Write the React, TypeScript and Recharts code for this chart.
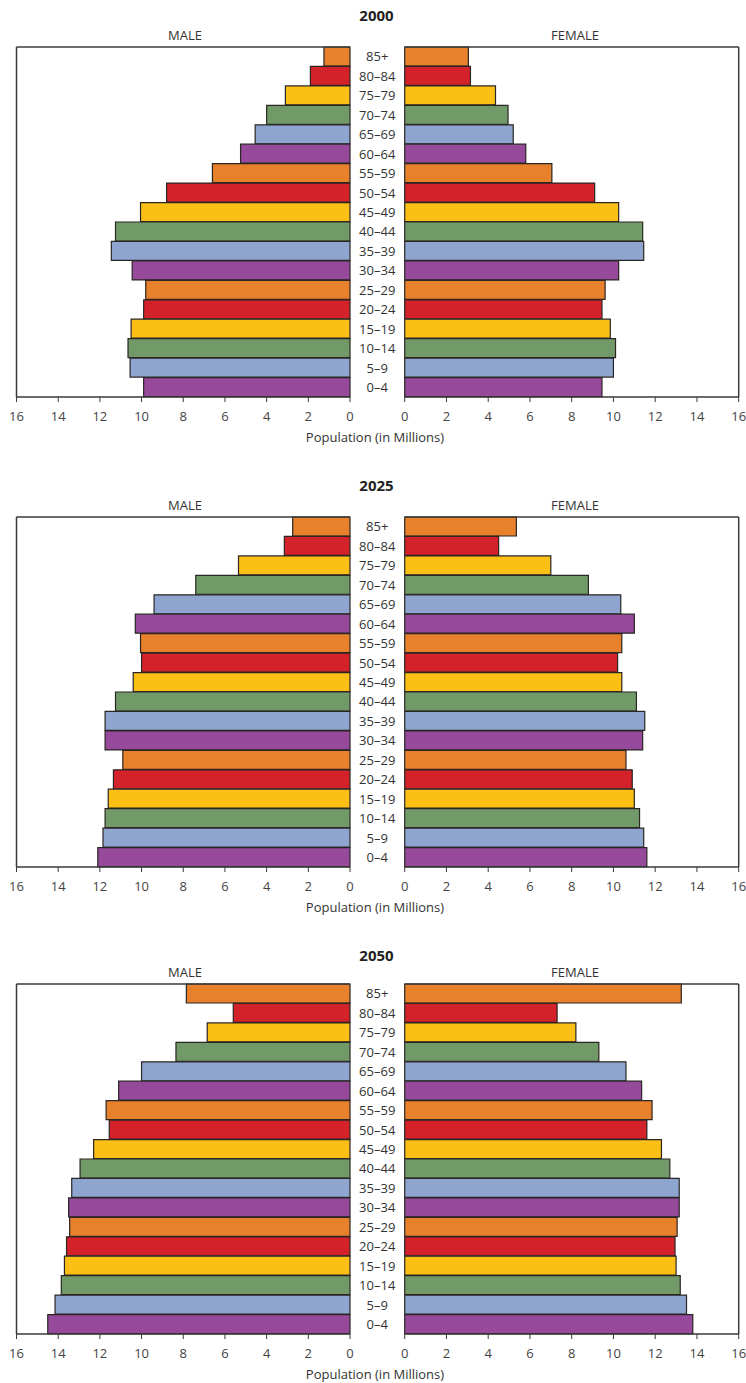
import React from "react";
import { BarChart, Bar, XAxis, YAxis, Cell } from "recharts";

// age groups, top of the pyramid first
const ages = [
  "85+", "80–84", "75–79", "70–74", "65–69", "60–64", "55–59", "50–54", "45–49",
  "40–44", "35–39", "30–34", "25–29", "20–24", "15–19", "10–14", "5–9", "0–4",
];

const years = ["2000", "2025", "2050"];

// population in millions, same order as ages
const male2000 = [1.25, 1.9, 3.1, 4.0, 4.55, 5.25, 6.6, 8.8, 10.05, 11.25, 11.45, 10.45, 9.8, 9.9, 10.5, 10.65, 10.55, 9.9];
const female2000 = [3.05, 3.15, 4.35, 4.95, 5.2, 5.8, 7.05, 9.1, 10.25, 11.4, 11.45, 10.25, 9.6, 9.45, 9.85, 10.1, 10.0, 9.45];
const male2025 = [2.75, 3.15, 5.35, 7.4, 9.4, 10.3, 10.05, 10.0, 10.4, 11.25, 11.75, 11.75, 10.9, 11.35, 11.6, 11.75, 11.85, 12.1];
const female2025 = [5.35, 4.5, 7.0, 8.8, 10.35, 11.0, 10.4, 10.2, 10.4, 11.1, 11.5, 11.4, 10.6, 10.9, 11.0, 11.25, 11.45, 11.6];
const male2050 = [7.85, 5.6, 6.85, 8.35, 10.0, 11.1, 11.7, 11.55, 12.3, 12.95, 13.35, 13.5, 13.45, 13.6, 13.7, 13.85, 14.15, 14.5];
const female2050 = [13.25, 7.3, 8.2, 9.3, 10.6, 11.35, 11.85, 11.6, 12.3, 12.7, 13.15, 13.15, 13.05, 12.95, 13.0, 13.2, 13.5, 13.8];

const maleByYear = [male2000, male2025, male2050];
const femaleByYear = [female2000, female2025, female2050];

const xTicks = [0, 2, 4, 6, 8, 10, 12, 14, 16];

// colour cycle from the top group down
const groupColors = ["#e8812b", "#d3222a", "#fbbf16", "#729a68", "#8ea5cf", "#974a9c"];

const panelTops = [0, 470, 937];
const titleShift = [0, 0, 3];

const FONT = "'Open Sans', 'Noto Sans', sans-serif";
const frame = { stroke: "#3a3a3a", strokeWidth: 1.5 };
const tickStyle = { fill: "#444", fontSize: 13, fontFamily: FONT };

function AgeTick(props: any) {
  const { x, y, payload } = props;
  return (
    <text
      x={x - 27.5}
      y={y}
      dy="0.36em"
      textAnchor="middle"
      fill="#333"
      fontSize={13}
      fontFamily={FONT}
    >
      {payload.value}
    </text>
  );
}

function Pyramid({ index }: { index: number }) {
  const rows = ages.map((age, i) => ({
    age,
    male: maleByYear[index][i],
    female: femaleByYear[index][i],
  }));
  const top = panelTops[index];

  return (
    <div style={{ position: "absolute", left: 0, top, width: 746, height: 460 }}>
      <div
        style={{
          position: "absolute",
          left: 0,
          width: 753,
          top: 5 + titleShift[index],
          textAlign: "center",
          fontFamily: FONT,
          fontWeight: 700,
          fontSize: 15,
          color: "#222",
        }}
      >
        {years[index]}
      </div>
      <div style={{ position: "absolute", left: 85, width: 200, top: 26, textAlign: "center", fontFamily: FONT, fontSize: 13, color: "#333" }}>
        MALE
      </div>
      <div style={{ position: "absolute", left: 475, width: 200, top: 26, textAlign: "center", fontFamily: FONT, fontSize: 13, color: "#333" }}>
        FEMALE
      </div>

      <div style={{ position: "absolute", left: 0, top: 0 }}>
        <BarChart
          width={360}
          height={460}
          data={rows}
          layout="vertical"
          margin={{ top: 46, right: 10, bottom: 33, left: 15.5 }}
          barCategoryGap={0}
        >
          <XAxis
            type="number"
            domain={[0, 16]}
            ticks={xTicks}
            reversed
            height={30}
            axisLine={frame}
            tickLine={{ stroke: "#3a3a3a" }}
            tickSize={5}
            tickMargin={10}
            tick={tickStyle}
          />
          <XAxis
            xAxisId="top"
            type="number"
            orientation="top"
            domain={[0, 16]}
            reversed
            height={1}
            tick={false}
            tickLine={false}
            axisLine={frame}
          />
          <YAxis type="category" dataKey="age" width={1} tick={false} tickLine={false} axisLine={frame} />
          <Bar dataKey="male" stroke="#2a2624" strokeWidth={1.2} isAnimationActive={false}>
            {rows.map((_, i) => (
              <Cell key={i} fill={groupColors[i % 6]} />
            ))}
          </Bar>
        </BarChart>
      </div>

      <div style={{ position: "absolute", left: 350, top: 0 }}>
        <BarChart
          width={396}
          height={460}
          data={rows}
          layout="vertical"
          margin={{ top: 46, right: 6.3, bottom: 33, left: 0 }}
          barCategoryGap={0}
        >
          <XAxis
            type="number"
            domain={[0, 16]}
            ticks={xTicks}
            height={30}
            axisLine={frame}
            tickLine={{ stroke: "#3a3a3a" }}
            tickSize={5}
            tickMargin={10}
            tick={tickStyle}
          />
          <XAxis
            xAxisId="top"
            type="number"
            orientation="top"
            domain={[0, 16]}
            height={1}
            tick={false}
            tickLine={false}
            axisLine={frame}
          />
          <YAxis
            type="category"
            dataKey="age"
            width={54.7}
            axisLine={false}
            tickLine={false}
            tickSize={0}
            tickMargin={0}
            tick={<AgeTick />}
            interval={0}
          />
          <YAxis
            yAxisId="right"
            type="category"
            dataKey="age"
            orientation="right"
            width={1}
            tick={false}
            tickLine={false}
            axisLine={frame}
          />
          <Bar dataKey="female" stroke="#2a2624" strokeWidth={1.2} isAnimationActive={false}>
            {rows.map((_, i) => (
              <Cell key={i} fill={groupColors[i % 6]} />
            ))}
          </Bar>
        </BarChart>
      </div>

      <div
        style={{
          position: "absolute",
          left: 275,
          width: 200,
          top: 428,
          textAlign: "center",
          fontFamily: FONT,
          fontSize: 13,
          color: "#333",
        }}
      >
        Population (in Millions)
      </div>
    </div>
  );
}

export default function App() {
  return (
    <div style={{ position: "absolute", left: 0, top: 0, width: 746, height: 1383, background: "#fff" }}>
      {years.map((_, i) => (
        <Pyramid key={i} index={i} />
      ))}
    </div>
  );
}
